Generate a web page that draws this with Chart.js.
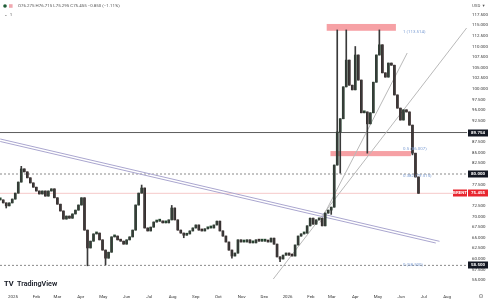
<!DOCTYPE html>
<html>
<head>
<meta charset="utf-8">
<script src="https://cdn.jsdelivr.net/npm/chart.js@4.4.1/dist/chart.umd.min.js"></script>
<style>
html,body{margin:0;padding:0;background:#fff;}
canvas{display:block;}
</style>
</head>
<body>
<canvas id="chart" width="489" height="300"></canvas>
<script>
// Brent daily chart, thinned to one bar every 4 days
const candleStart = '2024-12-15';
const candleStepDays = 4;
const closes = [
  73.9, 73.2, 72.5, 73.2, 74.1, 75.5, 78.1, 81.2, 80.5, 79.1,
  77.9, 76.9, 76.0, 75.3, 76.0, 74.8, 76.0, 76.5, 74.4, 72.9,
  71.3, 69.4, 70.1, 69.6, 70.6, 71.5, 72.7, 74.4, 66.8, 62.6,
  64.2, 65.9, 66.1, 64.5, 62.1, 60.2, 61.6, 65.2, 65.4, 64.5,
  64.2, 63.5, 64.5, 65.2, 66.8, 72.7, 75.5, 76.7, 67.3, 66.6,
  67.5, 68.7, 68.9, 68.9, 68.5, 68.5, 69.2, 72.0, 69.2, 66.8,
  66.1, 65.6, 65.9, 66.6, 67.3, 68.0, 66.8, 66.6, 67.1, 67.3,
  67.3, 68.0, 68.9, 66.6, 65.4, 64.0, 62.1, 60.7, 61.4, 64.5,
  64.0, 64.0, 64.5, 63.8, 63.8, 64.5, 64.2, 64.2, 64.2, 64.0,
  64.9, 63.5, 60.5, 60.0, 60.9, 61.4, 60.9, 60.7, 63.3, 65.4,
  65.9, 66.1, 67.8, 69.6, 68.2, 69.2, 69.6, 67.8, 70.8, 71.5,
  72.2, 82.1, 89.9, 93.0, 100.5, 106.8, 100.9, 99.8, 108.0, 102.1,
  94.4, 94.6, 91.8, 94.4, 101.6, 108.0, 110.4, 103.8, 102.8, 106.1,
  105.6, 98.6, 95.5, 92.7, 95.1, 94.6, 91.5, 84.9, 79.3, 75.455
];
// only the wicks that stick out clearly: [bar index, price]
const wickHighs = [[7, 81.8], [47, 77.4], [57, 72.6], [112, 113.9], [115, 113.9], [118, 110.0], [126, 113.9], [138, 83.3]];
const wickLows = [[2, 72.0], [29, 58.4], [35, 58.6], [61, 65.0], [77, 60.2], [93, 59.4], [110, 70.5], [113, 80.2], [122, 84.9], [137, 84.5]];

const monthTicks = ['2025-01-01', '2025-02-01', '2025-03-01', '2025-04-01', '2025-05-01', '2025-06-01', '2025-07-01',
  '2025-08-01', '2025-09-01', '2025-10-01', '2025-11-01', '2025-12-01', '2026-01-01', '2026-02-01', '2026-03-01',
  '2026-04-01', '2026-05-01', '2026-06-01', '2026-07-01', '2026-08-01'];
const monthLabels = ['2025', 'Feb', 'Mar', 'Apr', 'May', 'Jun', 'Jul', 'Aug', 'Sep', 'Oct', 'Nov', 'Dec',
  '2026', 'Feb', 'Mar', 'Apr', 'May', 'Jun', 'Jul', 'Aug'];
const priceTicks = [55, 57.5, 60, 62.5, 65, 67.5, 70, 72.5, 75, 77.5, 80, 82.5, 85, 87.5, 90, 92.5, 95, 97.5,
  100, 102.5, 105, 107.5, 110, 112.5, 115, 117.5];

// drawings on the chart (date, price)
const levelLines = [
  { price: 89.754, dash: [], color: '#5c5c5c' },
  { price: 80.0, dash: [2, 2], color: '#8a8a8a' },
  { price: 58.5, dash: [2, 2], color: '#8a8a8a' },
  { price: 75.455, dash: [], color: '#f6caca' }
];
const trendLines = [
  { from: ['2024-12-15', 88.24], to: ['2026-07-22', 64.16], color: '#aaa6cf' },
  { from: ['2024-12-15', 87.65], to: ['2026-07-17', 63.76], color: '#aaa6cf' },
  { from: ['2025-12-13', 55.29], to: ['2026-08-27', 114.35], color: '#b9b9b9' },
  { from: ['2026-02-13', 68.56], to: ['2026-06-09', 108.47], color: '#b9b9b9' }
];
const zones = [
  { from: '2026-02-22', to: '2026-05-25', low: 113.7, high: 115.3 },
  { from: '2026-02-27', to: '2026-06-14', low: 84.2, high: 85.4 }
];
const fibLabels = [
  { price: 113.514, text: '1 (113.514)' },
  { price: 86.007, text: '0.5 (86.007)' },
  { price: 79.515, text: '0.382 (79.515)' },
  { price: 58.5, text: '0 (58.500)' }
];
const priceTags = [
  { price: 89.754, text: '89.754', bg: '#131722' },
  { price: 80.0, text: '80.000', bg: '#131722' },
  { price: 58.5, text: '58.500', bg: '#131722' },
  { price: 75.455, text: '75.455', bg: '#e8262f', symbol: 'BRENT' }
];

const DAY = 86400000;
const epoch = Date.parse('2025-01-01');
function dayNo(s) { return (Date.parse(s) - epoch) / DAY; }
const xMin = -17.3, xMax = 603.5;
const yMin = 53.176, yMax = 118.588;
const FONT = 'Roboto, "DejaVu Sans", sans-serif';

const startDay = dayNo(candleStart);
const wickData = [], bodyData = [], bodyColors = [];
closes.forEach((c, i) => {
  const x = startDay + i * candleStepDays;
  const o = i === 0 ? c : closes[i - 1];
  let hi = Math.max(o, c), lo = Math.min(o, c);
  wickHighs.forEach(w => { if (w[0] === i) hi = Math.max(hi, w[1]); });
  wickLows.forEach(w => { if (w[0] === i) lo = Math.min(lo, w[1]); });
  wickData.push({ x: x, y: [lo, hi] });
  bodyData.push({ x: x, y: [o, c] });
  bodyColors.push(c >= o ? '#24442e' : '#352222');
});

const lineSets = [];
levelLines.forEach(l => {
  lineSets.push({
    type: 'line', data: [{ x: xMin, y: l.price }, { x: xMax, y: l.price }],
    borderColor: l.color, borderWidth: 1, borderDash: l.dash, pointRadius: 0, order: 3
  });
});
trendLines.forEach(t => {
  lineSets.push({
    type: 'line', data: [{ x: dayNo(t.from[0]), y: t.from[1] }, { x: dayNo(t.to[0]), y: t.to[1] }],
    borderColor: t.color, borderWidth: 1, pointRadius: 0, order: 1
  });
});

const overlay = {
  id: 'overlay',
  beforeDatasetsDraw(chart) {
    const { ctx, scales: { x, y } } = chart;
    ctx.save();
    ctx.fillStyle = 'rgba(242,125,130,0.72)';
    zones.forEach(z => {
      const x1 = x.getPixelForValue(dayNo(z.from)), x2 = x.getPixelForValue(dayNo(z.to));
      const y1 = y.getPixelForValue(z.high), y2 = y.getPixelForValue(z.low);
      ctx.fillRect(x1, y1, x2 - x1, y2 - y1);
    });
    ctx.restore();
  },
  afterDraw(chart) {
    const { ctx, scales: { x, y } } = chart;
    ctx.save();
    ctx.textBaseline = 'middle';
    // fib level captions
    ctx.font = '4.4px ' + FONT;
    ctx.fillStyle = '#7e9fd4';
    ctx.textAlign = 'left';
    fibLabels.forEach(f => ctx.fillText(f.text, 403, y.getPixelForValue(f.price)));
    // price tags on the axis
    priceTags.forEach(t => {
      const py = Math.round(y.getPixelForValue(t.price));
      ctx.fillStyle = t.bg;
      ctx.fillRect(468, py - 3.5, 20, 7);
      ctx.fillStyle = '#fff';
      ctx.textAlign = 'center';
      ctx.font = 'bold 4.4px ' + FONT;
      ctx.fillText(t.text, 478, py);
      if (t.symbol) {
        ctx.fillStyle = t.bg;
        ctx.fillRect(453, py - 3.5, 14, 7);
        ctx.fillStyle = '#fff';
        ctx.fillText(t.symbol, 460, py);
      }
    });
    // header legend
    ctx.textAlign = 'left';
    ctx.fillStyle = '#1f5c36';
    ctx.beginPath(); ctx.arc(5, 6, 1.8, 0, Math.PI * 2); ctx.fill();
    ctx.fillStyle = '#f0a8b0';
    ctx.fillRect(9, 4.2, 3.6, 3.6);
    ctx.font = '4.4px ' + FONT;
    ctx.fillStyle = '#555';
    ctx.fillText('O76.275 H76.715 L75.295 C75.455 \u22120.850 (\u22121.11%)', 18, 6);
    ctx.fillText('\u2304  1', 4, 15);
    ctx.fillText('USD  \u25BE', 472, 6);
    // logo
    ctx.fillStyle = '#131722';
    ctx.font = 'bold 7.5px ' + FONT;
    ctx.fillText('TV', 4, 284);
    ctx.font = '600 7.2px ' + FONT;
    ctx.fillText('TradingView', 17, 284);
    ctx.font = '6px "DejaVu Sans"';
    ctx.fillStyle = '#555';
    ctx.textAlign = 'center';
    ctx.fillText('\u2299', 481, 296);
    ctx.restore();
  }
};

new Chart(document.getElementById('chart'), {
  type: 'bar',
  data: {
    datasets: [
      { data: wickData, backgroundColor: '#3a3a3a', barThickness: 1, grouped: false, order: 0 },
      { data: bodyData, backgroundColor: bodyColors, barThickness: 2, grouped: false, minBarLength: 2, order: 0 }
    ].concat(lineSets)
  },
  options: {
    responsive: false,
    animation: false,
    layout: { padding: { top: 10, left: 0, right: 0, bottom: 0 } },
    plugins: { legend: { display: false }, tooltip: { enabled: false } },
    scales: {
      x: {
        type: 'linear', min: xMin, max: xMax, offset: false,
        grid: { display: false, drawTicks: false }, border: { display: false },
        afterBuildTicks: a => { a.ticks = monthTicks.map(m => ({ value: dayNo(m) })); },
        afterFit: s => { s.height = 12; },
        ticks: {
          autoSkip: false, maxRotation: 0, padding: 6, color: '#333',
          font: { size: 4.4, family: FONT },
          callback: (v, i) => monthLabels[i]
        }
      },
      y: {
        position: 'right', min: yMin, max: yMax, beginAtZero: false,
        grid: { display: false, drawTicks: false }, border: { display: false },
        afterBuildTicks: a => { a.ticks = priceTicks.map(v => ({ value: v })); },
        afterFit: s => { s.width = 22; },
        ticks: {
          padding: 5, color: '#333', font: { size: 4.4, family: FONT },
          callback: v => v.toFixed(3)
        }
      }
    }
  },
  plugins: [overlay]
});
</script>
</body>
</html>
